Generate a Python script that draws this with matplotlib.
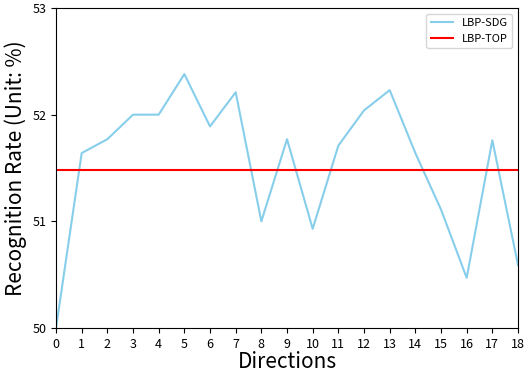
import numpy as np
import matplotlib.pyplot as plt

plt.rcParams['font.family'] = ['Noto Sans CJK SC', 'DejaVu Sans']

# data
directions = list(range(19))
lbp_sdg = [50.00, 51.64, 51.77, 52.00, 52.00, 52.38, 51.89, 52.21, 51.00, 51.77,
           50.93, 51.71, 52.04, 52.23, 51.64, 51.11, 50.47, 51.76, 50.59]
lbp_top = 51.48

fig = plt.figure(figsize=(5.25, 3.72), dpi=100)
ax = fig.add_axes([0.1067, 0.1183, 0.88, 0.8602])

ax.plot(directions, lbp_sdg, color='skyblue', linewidth=1.5, label='LBP-SDG')
ax.axhline(lbp_top, color='red', linewidth=1.5, label='LBP-TOP')

ax.set_xlim(0, 18)
ax.set_ylim(50, 53)
ax.set_xticks(directions)
ax.set_yticks([50, 51, 52, 53])
ax.tick_params(labelsize=9)
ax.set_xlabel('Directions', fontsize=15, labelpad=0)
ax.set_ylabel('Recognition Rate (Unit: %)', fontsize=15)
ax.legend(loc='upper right', fontsize=8)

fig.savefig('out.png', dpi=100)
